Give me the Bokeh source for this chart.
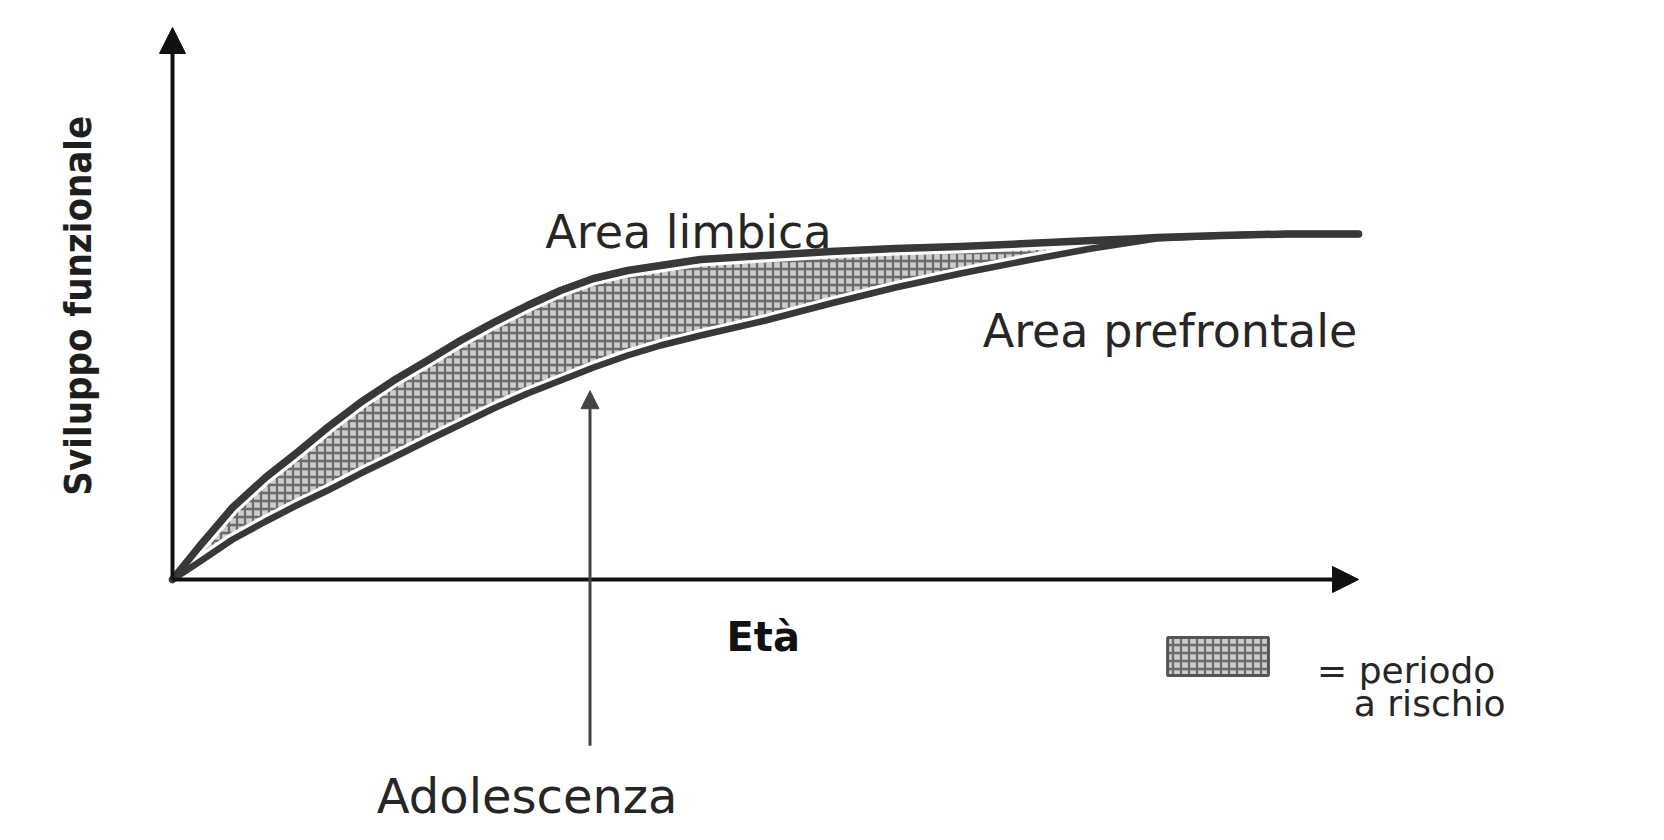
from math import pi
from bokeh.plotting import figure
from bokeh.models import Arrow, NormalHead, Range1d
from bokeh.core.properties import value
from bokeh.embed import file_html
from bokeh.resources import INLINE

# ---- data (arbitrary units 0..100) ----
ages = [0, 2.19, 5.06, 7.84, 10.62, 13.07, 15.85, 18.63, 21.50, 24.28, 27.07, 29.93, 32.72, 35.50,
        38.36, 41.15, 44.52, 50.0, 55.48, 60.96, 66.44, 72.01, 77.49, 80.78, 82.97, 88.45, 93.93, 100]
limbic = [0, 5.80, 13.04, 18.48, 23.19, 27.54, 32.07, 36.05, 39.67, 43.30, 46.56, 49.64, 52.36, 54.53,
          55.98, 56.88, 57.97, 58.70, 59.42, 59.96, 60.33, 60.87, 61.41, 61.68, 61.96, 62.32, 62.59, 62.59]
prefrontal = [0, 3.08, 7.25, 10.51, 13.59, 16.12, 19.20, 22.10, 25.18, 28.08, 30.98, 33.70, 36.05, 38.41,
              40.58, 42.39, 44.20, 46.92, 50.0, 52.90, 55.43, 57.79, 59.96, 61.05, 61.78, 62.32, 62.59, 62.59]

y_title = "Sviluppo funzionale"
x_title = "Età"
label_limbic = "Area limbica"
label_prefrontal = "Area prefrontale"
label_adolescence = "Adolescenza"
adolescence_age = 35.2
legend_lines = ["= periodo", "a rischio"]

FONT = value("DejaVu Sans")
TXT = "#262626"
LINE = "#383838"
HATCH = dict(fill_color="#cdcdcd", hatch_pattern="+", hatch_color="#6a6a6a",
             hatch_weight=2.3, hatch_scale=8)

p = figure(width=1656, height=832,
           x_range=Range1d(-14.503, 125.12), y_range=Range1d(-45.83, 104.89),
           output_backend="svg", toolbar_location=None, min_border=0,
           x_axis_location=None, y_axis_location=None)
p.grid.visible = False
p.outline_line_color = None
p.background_fill_color = "white"
p.border_fill_color = "white"

# risk period area (hatched)
p.varea(x=ages, y1=prefrontal, y2=limbic, **HATCH)

# white halo so the hatch does not touch the curves
p.line(ages, limbic, line_color="white", line_width=14, line_cap="round", line_join="round")
p.line(ages, prefrontal, line_color="white", line_width=13, line_cap="round", line_join="round")
p.line(ages, limbic, line_color=LINE, line_width=7.5, line_cap="round", line_join="round")
p.line(ages, prefrontal, line_color=LINE, line_width=6.5, line_cap="round", line_join="round")

# axes with arrow heads
p.add_layout(Arrow(x_start=0, y_start=0, x_end=0, y_end=100, line_color="#111111", line_width=4,
                   end=NormalHead(size=26, fill_color="#111111", line_color="#111111")))
p.add_layout(Arrow(x_start=0, y_start=0, x_end=100, y_end=0, line_color="#111111", line_width=4,
                   end=NormalHead(size=26, fill_color="#111111", line_color="#111111")))

# adolescence arrow
p.add_layout(Arrow(x_start=adolescence_age, y_start=-30.1, x_end=adolescence_age, y_end=34.2,
                   line_color="#444444", line_width=3,
                   end=NormalHead(size=18, fill_color="#444444", line_color="#444444")))

# texts
p.text(x=[-8.0], y=[49.6], text=[y_title], angle=pi / 2, text_align="center", text_baseline="middle",
       text_font=value("DejaVu Sans Condensed"), text_font_size="38px", text_font_style="bold",
       text_color="#1e1e1e")
p.text(x=[49.8], y=[-10.5], text=[x_title], text_align="center", text_baseline="alphabetic",
       text_font=FONT, text_font_size="40px", text_font_style="bold", text_color="#111111")
p.text(x=[43.5], y=[62.9], text=[label_limbic], text_align="center", text_baseline="alphabetic",
       text_font=FONT, text_font_size="46px", text_color=TXT)
p.text(x=[84.1], y=[45.1], text=[label_prefrontal], text_align="center", text_baseline="alphabetic",
       text_font=FONT, text_font_size="46px", text_color=TXT)
p.text(x=[29.9], y=[-39.3], text=[label_adolescence], text_align="center", text_baseline="alphabetic",
       text_font=FONT, text_font_size="48px", text_color=TXT)

# legend
p.quad(left=[83.9], right=[92.4], bottom=[-17.4], top=[-10.5],
       line_color="#555555", line_width=3, **HATCH)
p.text(x=[96.5], y=[-16.5], text=[legend_lines[0]], text_align="left", text_baseline="alphabetic",
       text_font=FONT, text_font_size="36px", text_color=TXT)
p.text(x=[99.6], y=[-22.5], text=[legend_lines[1]], text_align="left", text_baseline="alphabetic",
       text_font=FONT, text_font_size="36px", text_color=TXT)

open("out.html", "w").write(file_html(p, INLINE))
